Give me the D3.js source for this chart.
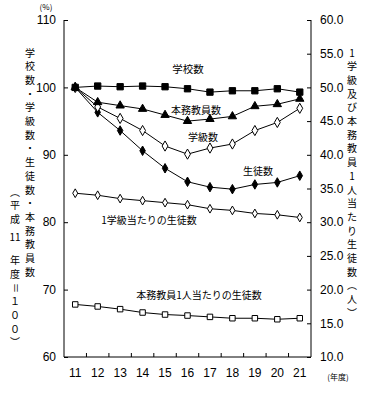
<!DOCTYPE html>
<html><head><meta charset="utf-8">
<script src="https://cdn.jsdelivr.net/npm/d3@7"></script>
<style>body{margin:0;background:#fff}svg{display:block}</style>
</head><body>
<svg id="c" width="366" height="393"></svg>
<script>
const years = [11,12,13,14,15,16,17,18,19,20,21];
const schools   = [100, 100.2, 100.1, 100.2, 100.1, 99.8, 99.3, 99.5, 99.5, 99.8, 99.3];
const teachers  = [100, 97.8, 97.3, 96.8, 95.9, 95.0, 95.3, 95.7, 97.2, 97.5, 98.3];
const classes   = [100, 97.1, 95.4, 93.6, 91.3, 90.1, 91.0, 91.6, 93.6, 94.8, 96.9];
const students  = [100, 96.3, 93.6, 90.6, 88.0, 86.0, 85.2, 84.9, 85.6, 85.9, 86.9];
const perClass  = [34.3, 34.0, 33.5, 33.2, 32.9, 32.6, 32.0, 31.75, 31.3, 31.1, 30.7];
const perTeacher= [17.8, 17.5, 17.1, 16.6, 16.3, 16.15, 15.95, 15.75, 15.75, 15.6, 15.75];
const leftTicks = [60,70,80,90,100,110];
const rightTicks = [10,15,20,25,30,35,40,45,50,55,60];

const svg = d3.select('#c');
const L=64, R=311, T=20, B=357;
const x = d3.scaleBand().domain(years).range([L,R]).padding(0);
const cx = d => x(d)+x.bandwidth()/2;
const yL = d3.scaleLinear().domain([60,110]).range([B,T]);
const yR = d3.scaleLinear().domain([10,60]).range([B,T]);
const numFont = 'Liberation Sans, Arial, sans-serif';
const jpFont = 'Noto Sans CJK JP, sans-serif';

// axes
const gl = svg.append('g').attr('transform',`translate(${L},0)`)
  .call(d3.axisRight(yL).tickValues(leftTicks).tickSize(4).tickFormat(''));
gl.select('.domain').attr('d',`M0,${T}V${B}`);
leftTicks.forEach(t=>svg.append('text').attr('x',56).attr('y',yL(t)).attr('dy','0.35em')
  .attr('text-anchor','end').attr('font-family',numFont).attr('font-size',12).text(t));

const gr = svg.append('g').attr('transform',`translate(${R},0)`)
  .call(d3.axisLeft(yR).tickValues(rightTicks).tickSize(4).tickFormat(''));
gr.select('.domain').attr('d',`M0,${T}V${B}`);
rightTicks.forEach(t=>svg.append('text').attr('x',320).attr('y',yR(t)).attr('dy','0.35em')
  .attr('text-anchor','start').attr('font-family',numFont).attr('font-size',12).text(d3.format('.1f')(t)));

const gb = svg.append('g').attr('transform',`translate(0,${B})`)
  .call(d3.axisTop(x).tickValues([]).tickSize(0));
gb.select('.domain').attr('d',`M${L},0H${R}`);
years.slice(1).forEach(yv=>svg.append('line').attr('x1',x(yv)).attr('x2',x(yv))
  .attr('y1',B).attr('y2',B-4).attr('stroke','#000'));
years.forEach(yv=>svg.append('text').attr('x',cx(yv)).attr('y',373).attr('dy','0.35em')
  .attr('text-anchor','middle').attr('font-family',numFont).attr('font-size',12).text(yv));
svg.selectAll('.domain,.tick line').attr('stroke','#000');

svg.append('text').attr('x',46).attr('y',7).attr('dy','0.35em').attr('text-anchor','middle')
  .attr('font-family',jpFont).attr('font-size',8).text('(%)');
svg.append('text').attr('x',338).attr('y',377).attr('dy','0.35em').attr('text-anchor','middle')
  .attr('font-family',jpFont).attr('font-size',8).text('(年度)');

// series
function series(vals, y, sym, size, fill){
  const line = d3.line().x((d,i)=>cx(years[i])).y(d=>y(d));
  svg.append('path').attr('d',line(vals)).attr('fill','none').attr('stroke','#000').attr('stroke-width',1);
  svg.append('g').selectAll('path').data(vals).join('path')
    .attr('transform',(d,i)=>`translate(${cx(years[i])},${y(d)})`)
    .attr('d',d3.symbol().type(sym).size(size))
    .attr('fill',fill).attr('stroke','#000').attr('stroke-width',1);
}
series(perTeacher, yR, d3.symbolSquare, 30, '#fff');
series(perClass, yR, d3.symbolDiamond, 22, '#fff');
series(students, yL, d3.symbolDiamond, 26, '#000');
series(classes, yL, d3.symbolDiamond, 30, '#fff');
series(teachers, yL, d3.symbolTriangle, 30, '#000');
series(schools, yL, d3.symbolSquare, 40, '#000');

// in-plot labels
const labels = [['学校数',188,69,10.5],['本務教員数',196,110,10],['学級数',203,137,10],['生徒数',258,171,10],
  ['1学級当たりの生徒数',149,220,10],['本務教員1人当たりの生徒数',199,295,10]];
labels.forEach(([t,lx,ly,fs])=>svg.append('text').attr('x',lx).attr('y',ly).attr('dy','0.35em')
  .attr('text-anchor','middle').attr('font-family',jpFont).attr('font-size',fs).text(t));

// vertical titles
function vchar(ch, vx, vy, rot){
  const t = svg.append('text').attr('x',vx).attr('y',vy).attr('dy','0.35em').attr('text-anchor','middle')
    .attr('font-family',jpFont).attr('font-size',10).text(ch);
  if(rot) t.attr('transform',`rotate(90,${vx},${vy})`);
}
const step = 13.7;
Array.from('学校数・学級数・生徒数・本務教員数').forEach((c,i)=>vchar(c,30,53+i*step));
[['︵',0],['平',1],['成',2],['11',3.3],['年',5],['度',6],['＝',7,true],['１',8],['０',9],['０',10],['︶',11]]
  .forEach(([c,r,rot])=>vchar(c,15,192+r*step,rot));
Array.from('1学級及び本務教員1人当たり生徒数︵人︶').forEach((c,i)=>vchar(c,352,53+i*step));
</script>
</body></html>
